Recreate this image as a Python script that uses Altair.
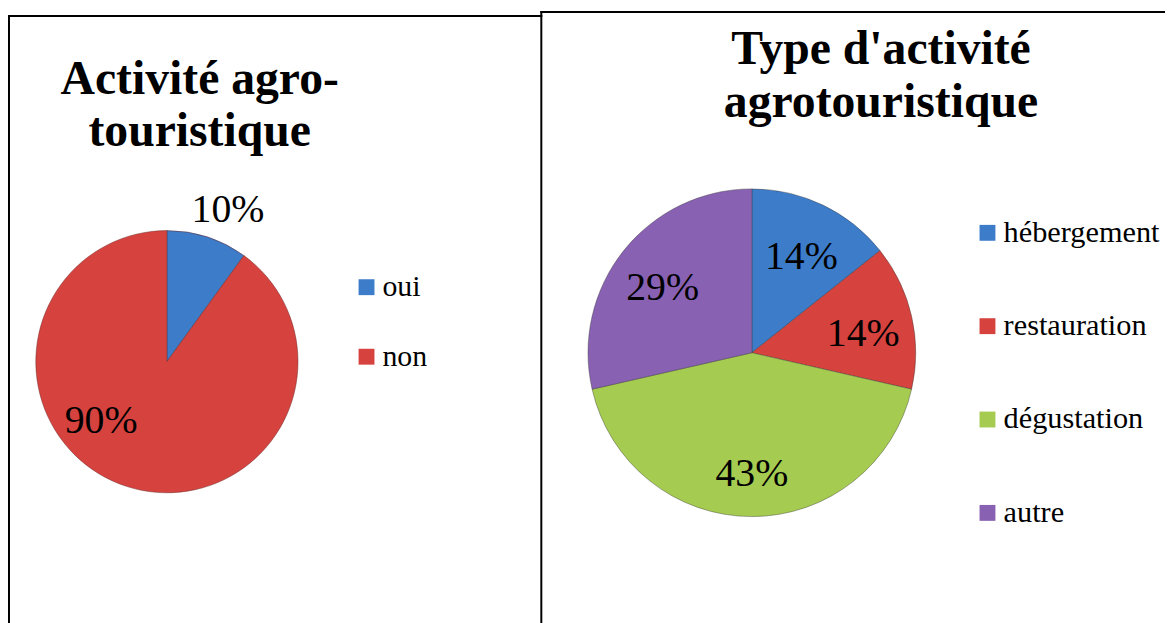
import altair as alt
import pandas as pd

# ---- data ----
left_cats = ["oui", "non"]
left_vals = [10, 90]
left_labels = ["10%", "90%"]
left_title = ["Activité agro-", "touristique"]

right_cats = ["hébergement", "restauration", "dégustation", "autre"]
right_vals = [1, 1, 3, 2]
right_labels = ["14%", "14%", "43%", "29%"]
right_title = ["Type d'activité", "agrotouristique"]

left_colors = ["#3D7CC9", "#D6433F"]
right_colors = ["#3D7CC9", "#D6433F", "#A5CC50", "#8861B2"]

FONT = "Liberation Serif"
W, H = 1165, 615

ldf = pd.DataFrame({"cat": left_cats, "val": left_vals, "label": left_labels,
                    "ord": list(range(len(left_cats)))})
rdf = pd.DataFrame({"cat": right_cats, "val": right_vals, "label": right_labels,
                    "ord": list(range(len(right_cats)))})

LCX, LCY, LR = 160, 354, 132
RCX, RCY, RR = 749, 345, 165

lbase = alt.Chart(ldf).encode(
    theta=alt.Theta("val:Q", stack=True),
    order=alt.Order("ord:Q"),
    x=alt.value(LCX), y=alt.value(LCY),
)
larc = lbase.mark_arc(radius=LR, stroke="#6a2422", strokeWidth=0.8, strokeOpacity=0.6).encode(
    color=alt.Color("cat:N", scale=alt.Scale(domain=left_cats, range=left_colors),
                    legend=alt.Legend(orient="none", legendX=346, legendY=264, title=None,
                                      symbolType="square", symbolSize=256, symbolStrokeWidth=0,
                                      labelFont=FONT, labelFontSize=30, labelColor="black",
                                      rowPadding=40, labelOffset=1, padding=0,
                                      labelLimit=400, direction="vertical"))
)
ltext_out = lbase.mark_text(radius=160, dx=12, font=FONT, fontSize=40, baseline="middle",
                            align="center", color="black").encode(
    text="label:N",
    opacity=alt.condition(alt.datum.cat == left_cats[0], alt.value(1), alt.value(0)),
)
ltext_in = lbase.mark_text(radius=88, dx=-39, dy=-24, font=FONT, fontSize=40, baseline="middle",
                           align="center", color="black").encode(
    text="label:N",
    opacity=alt.condition(alt.datum.cat == left_cats[1], alt.value(1), alt.value(0)),
)

rbase = alt.Chart(rdf).encode(
    theta=alt.Theta("val:Q", stack=True),
    order=alt.Order("ord:Q"),
    x=alt.value(RCX), y=alt.value(RCY),
)
rarc = rbase.mark_arc(radius=RR, stroke="#333333", strokeWidth=0.8, strokeOpacity=0.5).encode(
    color=alt.Color("cat:N", scale=alt.Scale(domain=right_cats, range=right_colors),
                    legend=alt.Legend(orient="none", legendX=971, legendY=209, title=None,
                                      symbolType="square", symbolSize=256, symbolStrokeWidth=0,
                                      labelFont=FONT, labelFontSize=30.5, labelColor="black",
                                      rowPadding=63, labelOffset=1, padding=0,
                                      labelLimit=400, direction="vertical"))
)
rtext = rbase.mark_text(radius=115, dy=7, font=FONT, fontSize=40, baseline="middle",
                        align="center", color="black").encode(text="label:N")

one = pd.DataFrame({"k": [0]})
ltitle = alt.Chart(one).mark_text(text=left_title, font=FONT, fontSize=48, fontWeight="bold",
                                  align="center", baseline="alphabetic", lineHeight=53,
                                  color="black").encode(x=alt.value(193), y=alt.value(84))
rtitle = alt.Chart(one).mark_text(text=right_title, font=FONT, fontSize=48, fontWeight="bold",
                                  align="center", baseline="alphabetic", lineHeight=54,
                                  color="black").encode(x=alt.value(879), y=alt.value(54))

rule_kw = dict(color="black", strokeWidth=2, strokeCap="square")
f1 = alt.Chart(one).mark_rule(**rule_kw).encode(x=alt.value(1), y=alt.value(6), y2=alt.value(H + 20))
f2 = alt.Chart(one).mark_rule(**rule_kw).encode(x=alt.value(1), x2=alt.value(537), y=alt.value(6))
f3 = alt.Chart(one).mark_rule(**rule_kw).encode(x=alt.value(537), y=alt.value(2), y2=alt.value(H + 20))
f4 = alt.Chart(one).mark_rule(**rule_kw).encode(x=alt.value(537), x2=alt.value(W + 20), y=alt.value(2))

chart = alt.layer(larc, ltext_out, ltext_in, rarc, rtext, ltitle, rtitle, f1, f2, f3, f4).resolve_scale(
    theta="independent", color="independent"
).properties(
    width=W, height=H, padding=0, autosize="none", background="white"
).configure_view(stroke=None)

chart.save("out.html", embed_options={"renderer": "svg", "actions": False})
